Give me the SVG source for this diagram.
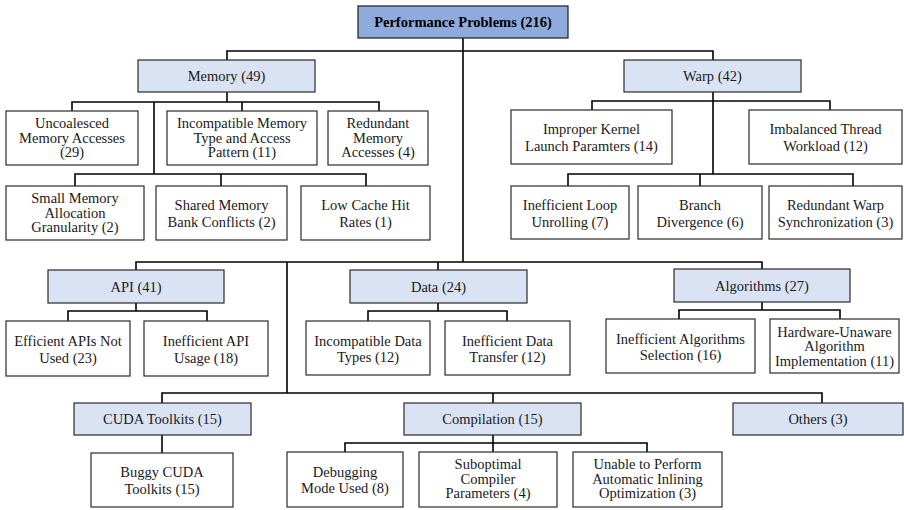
<svg xmlns="http://www.w3.org/2000/svg" width="904" height="510" viewBox="0 0 904 510">
<style>
text{font-family:'Liberation Serif','Times New Roman','DejaVu Serif',Times,serif;font-size:14.5px;fill:#1a1a1a;text-anchor:middle}
.root rect{fill:#8faadc;stroke:#2b2b2b;stroke-width:1.3}
.root text{font-weight:bold;fill:#000}
.cat rect{fill:#dae3f3;stroke:#2b2b2b;stroke-width:1.2}
.leaf rect{fill:#fff;stroke:#2b2b2b;stroke-width:1.2}
#connectors path{fill:none;stroke:#000;stroke-width:1.6}
</style>
<rect width="904" height="510" fill="#fff"/>
<g id="connectors">
<path d="M463 38V262M227 60V51H713V60"/>
<path d="M136 270V262H762V269M438 262V270M287 262V393M162 403V393H822V403M493 393V403"/>
<path d="M227 92V102M72 111V102H379V111M242 102V111M154 102V174M75 186V174H366V186M221 174V186"/>
<path d="M713 92V174M592 110V101H830V110M568 186V174H853V186M700 174V186"/>
<path d="M136 303V311M68 321V311H207V321"/>
<path d="M438 303V311M368 321V311H507V321"/>
<path d="M762 302V310M679 319V310H840V319"/>
<path d="M162 435V453"/>
<path d="M493 435V452M345 452V443H647V452"/>
</g>
<g font-family="Liberation Serif, serif">
<g id="root" class="root"><rect x="358" y="6" width="210" height="32"/><text x="463" y="27">Performance Problems (216)</text></g>
<g id="memory" class="cat"><rect x="138" y="60" width="177" height="32"/><text x="226.5" y="81">Memory (49)</text></g>
<g id="warp" class="cat"><rect x="624" y="60" width="177" height="32"/><text x="712.5" y="81">Warp (42)</text></g>
<g id="uncoalesced" class="leaf"><rect x="6" y="111" width="132" height="54"/><text x="72" y="128">Uncoalesced</text><text x="72" y="142.5">Memory Accesses</text><text x="72" y="157">(29)</text></g>
<g id="incompatible-memory" class="leaf"><rect x="167" y="111" width="150" height="54"/><text x="242" y="128">Incompatible Memory</text><text x="242" y="142.5">Type and Access</text><text x="242" y="157">Pattern (11)</text></g>
<g id="redundant-memory" class="leaf"><rect x="328" y="111" width="100" height="54"/><text x="378" y="128">Redundant</text><text x="378" y="142.5">Memory</text><text x="378" y="157">Accesses (4)</text></g>
<g id="small-memory" class="leaf"><rect x="6" y="186" width="138" height="54"/><text x="75" y="203">Small Memory</text><text x="75" y="217.5">Allocation</text><text x="75" y="232">Granularity (2)</text></g>
<g id="shared-memory" class="leaf"><rect x="156" y="186" width="131" height="54"/><text x="221.5" y="210">Shared Memory</text><text x="221.5" y="226.5">Bank Conflicts (2)</text></g>
<g id="low-cache" class="leaf"><rect x="301" y="186" width="129" height="54"/><text x="365.5" y="210">Low Cache Hit</text><text x="365.5" y="226.5">Rates (1)</text></g>
<g id="improper-kernel" class="leaf"><rect x="511" y="110" width="161" height="54"/><text x="591.5" y="134">Improper Kernel</text><text x="591.5" y="150.5">Launch Paramters (14)</text></g>
<g id="imbalanced" class="leaf"><rect x="749" y="110" width="153" height="54"/><text x="825.5" y="134">Imbalanced Thread</text><text x="825.5" y="150.5">Workload (12)</text></g>
<g id="loop-unrolling" class="leaf"><rect x="511" y="186" width="118" height="53"/><text x="570" y="210">Inefficient Loop</text><text x="570" y="226.5">Unrolling (7)</text></g>
<g id="branch" class="leaf"><rect x="638" y="186" width="124" height="53"/><text x="700" y="210">Branch</text><text x="700" y="226.5">Divergence (6)</text></g>
<g id="redundant-warp" class="leaf"><rect x="769" y="186" width="133" height="53"/><text x="835.5" y="210">Redundant Warp</text><text x="835.5" y="226.5">Synchronization (3)</text></g>
<g id="api" class="cat"><rect x="48" y="270" width="176" height="33"/><text x="136" y="291.5">API (41)</text></g>
<g id="data" class="cat"><rect x="350" y="270" width="177" height="33"/><text x="438.5" y="291.5">Data (24)</text></g>
<g id="algorithms" class="cat"><rect x="674" y="269" width="176" height="33"/><text x="762" y="290.5">Algorithms (27)</text></g>
<g id="efficient-apis" class="leaf"><rect x="6" y="321" width="124" height="55"/><text x="68" y="346">Efficient APIs Not</text><text x="68" y="362.5">Used (23)</text></g>
<g id="inefficient-api" class="leaf"><rect x="144" y="321" width="124" height="55"/><text x="206" y="346">Inefficient API</text><text x="206" y="362.5">Usage (18)</text></g>
<g id="incompatible-data" class="leaf"><rect x="306" y="321" width="124" height="54"/><text x="368" y="345.5">Incompatible Data</text><text x="368" y="362">Types (12)</text></g>
<g id="data-transfer" class="leaf"><rect x="445" y="321" width="125" height="54"/><text x="507.5" y="345.5">Inefficient Data</text><text x="507.5" y="362">Transfer (12)</text></g>
<g id="alg-selection" class="leaf"><rect x="606" y="319" width="149" height="54"/><text x="680.5" y="343.5">Inefficient Algorithms</text><text x="680.5" y="360">Selection (16)</text></g>
<g id="hardware-unaware" class="leaf"><rect x="770" y="319" width="129" height="54"/><text x="834.5" y="336.5">Hardware-Unaware</text><text x="834.5" y="351">Algorithm</text><text x="834.5" y="365.5">Implementation (11)</text></g>
<g id="cuda-toolkits" class="cat"><rect x="74" y="403" width="177" height="32"/><text x="162.5" y="424">CUDA Toolkits (15)</text></g>
<g id="compilation" class="cat"><rect x="404" y="403" width="177" height="32"/><text x="492.5" y="424">Compilation (15)</text></g>
<g id="others" class="cat"><rect x="733" y="403" width="170" height="32"/><text x="818" y="424">Others (3)</text></g>
<g id="buggy-cuda" class="leaf"><rect x="91" y="453" width="142" height="54"/><text x="162" y="477">Buggy CUDA</text><text x="162" y="493.5">Toolkits (15)</text></g>
<g id="debugging" class="leaf"><rect x="287" y="452" width="116" height="55"/><text x="345" y="476.5">Debugging</text><text x="345" y="493">Mode Used (8)</text></g>
<g id="suboptimal" class="leaf"><rect x="419" y="452" width="138" height="55"/><text x="488" y="469">Suboptimal</text><text x="488" y="483.5">Compiler</text><text x="488" y="498">Parameters (4)</text></g>
<g id="unable-inline" class="leaf"><rect x="573" y="452" width="149" height="55"/><text x="647.5" y="469">Unable to Perform</text><text x="647.5" y="483.5">Automatic Inlining</text><text x="647.5" y="498">Optimization (3)</text></g>
</g>
</svg>
